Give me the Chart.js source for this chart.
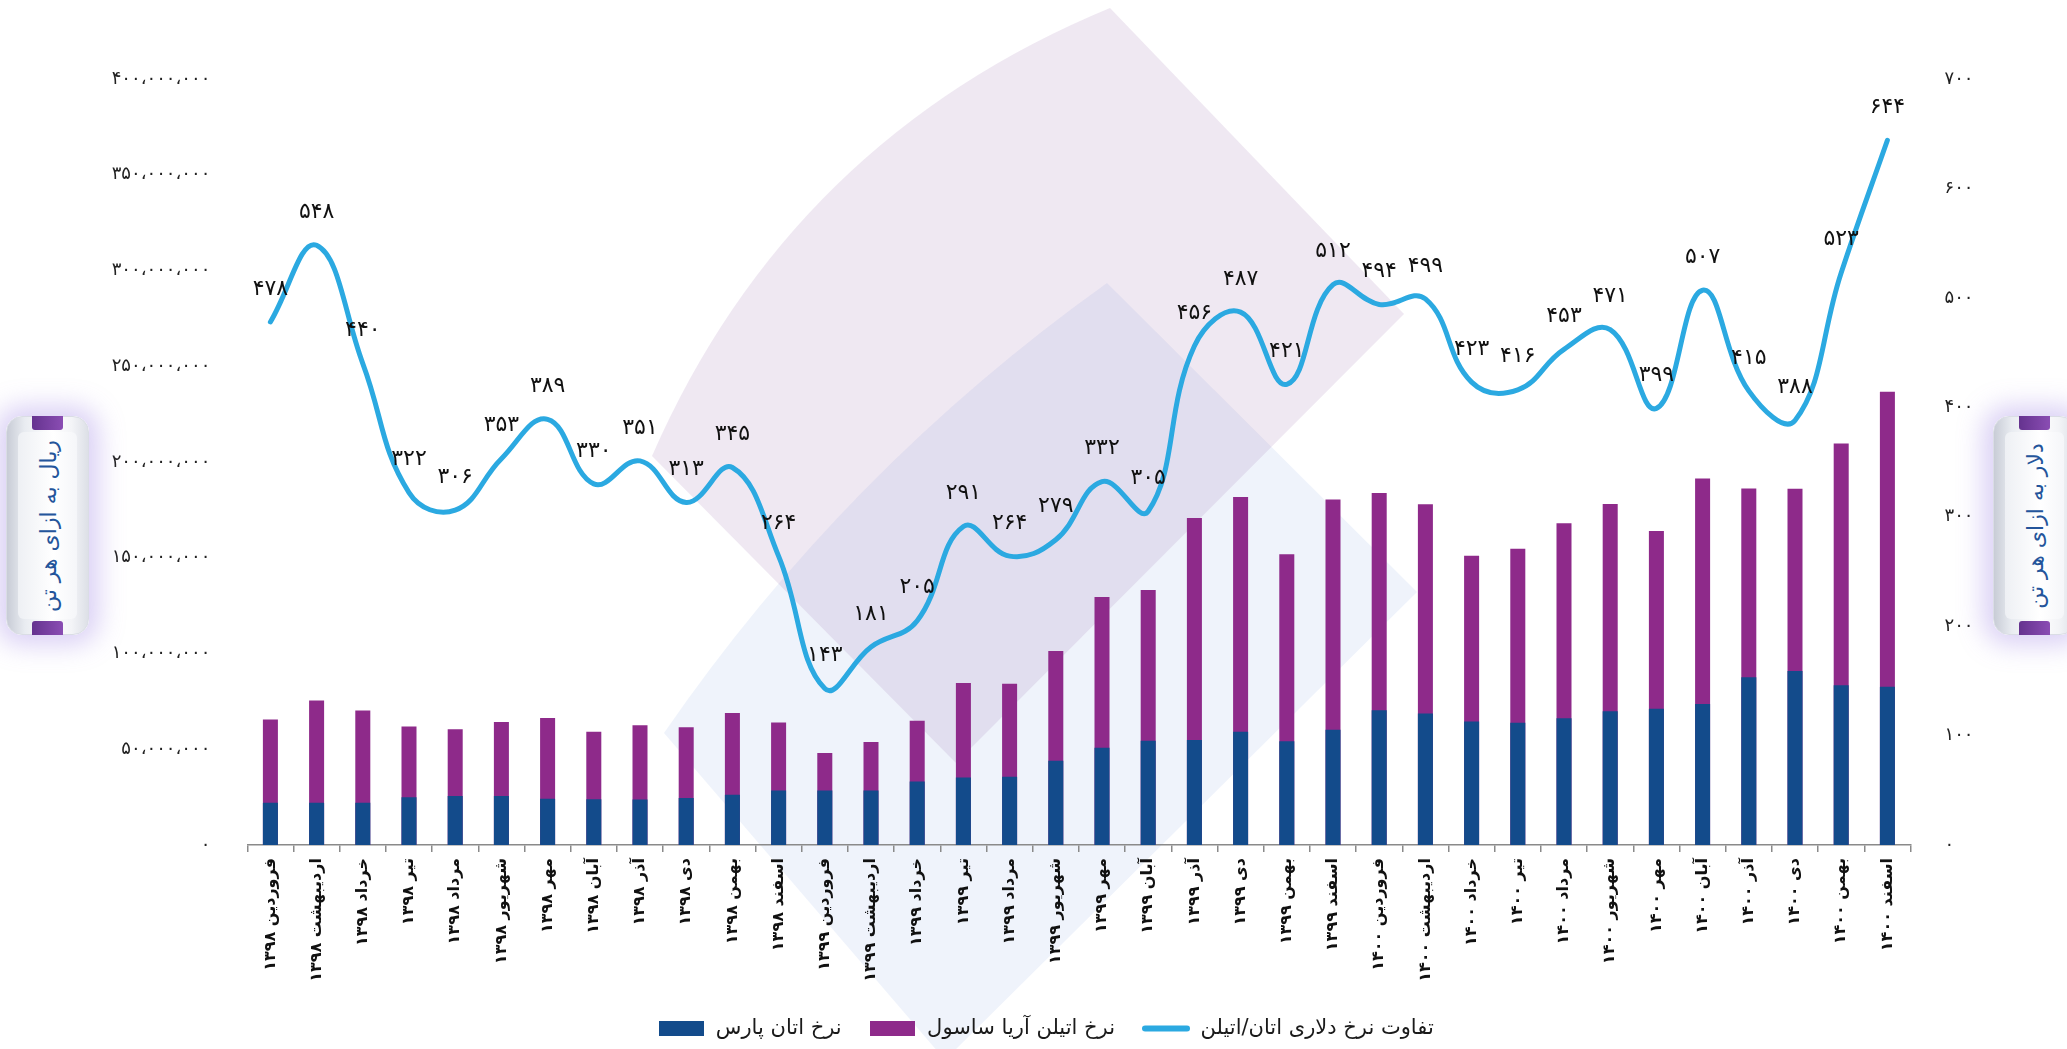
<!DOCTYPE html>
<html lang="fa">
<head>
<meta charset="utf-8">
<title>نرخ اتان و اتیلن</title>
<script src="https://cdn.jsdelivr.net/npm/chart.js@4.4.1/dist/chart.umd.min.js"></script>
<style>
html,body{margin:0;padding:0;background:#ffffff;overflow:hidden;}
#wrap{position:relative;width:2067px;height:1049px;overflow:hidden;background:#fff;}
#chart{position:absolute;left:0;top:0;}
.side{position:absolute;top:416px;width:83px;height:219px;border-radius:16px;
  background:linear-gradient(to right,#c8ccd6 0%,#e9ecf1 22%,#ffffff 55%,#f3f4f7 80%,#dde0e7 100%);
  box-shadow:0 0 26px 10px rgba(150,120,225,0.35);border:1px solid #dadde5;box-sizing:border-box;}
.side .inner{position:absolute;left:11px;right:11px;top:15px;bottom:15px;border-radius:6px;
  background:linear-gradient(to right,#eef0f4,#ffffff 60%,#f5f6f9);}
.side .cap{position:absolute;left:25px;width:31px;height:14px;background:linear-gradient(to right,#65338f,#8a4db3);}
.side .cap.t{top:-1px;border-radius:0 0 3px 3px;}
.side .cap.b{bottom:-1px;border-radius:3px 3px 0 0;}
.side .txt{position:absolute;left:50%;top:50%;transform:translate(-50%,-50%) rotate(-90deg);
  white-space:nowrap;font-family:'DejaVu Sans',sans-serif;font-size:22px;color:#24559b;direction:rtl;}
</style>
</head>
<body>
<div id="wrap">
  <canvas id="chart" width="2067" height="1049"></canvas>
  <div class="side" style="left:6px;"><div class="inner"></div><div class="cap t"></div><div class="cap b"></div><div class="txt">ریال به ازای هر تن</div></div>
  <div class="side" style="left:1993px;"><div class="inner"></div><div class="cap t"></div><div class="cap b"></div><div class="txt">دلار به ازای هر تن</div></div>
</div>
<script>
// ---- data ----
const categories = [
  'فروردین ۱۳۹۸','اردیبهشت ۱۳۹۸','خرداد ۱۳۹۸','تیر ۱۳۹۸','مرداد ۱۳۹۸','شهریور ۱۳۹۸',
  'مهر ۱۳۹۸','آبان ۱۳۹۸','آذر ۱۳۹۸','دی ۱۳۹۸','بهمن ۱۳۹۸','اسفند ۱۳۹۸',
  'فروردین ۱۳۹۹','اردیبهشت ۱۳۹۹','خرداد ۱۳۹۹','تیر ۱۳۹۹','مرداد ۱۳۹۹','شهریور ۱۳۹۹',
  'مهر ۱۳۹۹','آبان ۱۳۹۹','آذر ۱۳۹۹','دی ۱۳۹۹','بهمن ۱۳۹۹','اسفند ۱۳۹۹',
  'فروردین ۱۴۰۰','اردیبهشت ۱۴۰۰','خرداد ۱۴۰۰','تیر ۱۴۰۰','مرداد ۱۴۰۰','شهریور ۱۴۰۰',
  'مهر ۱۴۰۰','آبان ۱۴۰۰','آذر ۱۴۰۰','دی ۱۴۰۰','بهمن ۱۴۰۰','اسفند ۱۴۰۰'
];
// نرخ اتان پارس (ریال به ازای هر تن)
const ethaneRate = [
  22000000,22000000,22000000,25000000,25600000,25600000,24100000,23900000,23700000,24500000,26300000,28400000,
  28400000,28400000,33100000,35200000,35700000,44000000,50800000,54400000,54800000,59100000,54200000,60200000,
  70400000,68700000,64500000,63800000,66200000,69900000,71100000,73600000,87600000,90900000,83400000,82700000
];
// نرخ اتیلن آریا ساسول (ریال به ازای هر تن)
const ethyleneRate = [
  65500000,75500000,70200000,61900000,60400000,64200000,66300000,59100000,62500000,61500000,68900000,64000000,
  48000000,53800000,64900000,84600000,84200000,101300000,129500000,133100000,170800000,181700000,151800000,180400000,
  183800000,177900000,151000000,154700000,168000000,178100000,164000000,191400000,186200000,186000000,209600000,236700000
];
// تفاوت نرخ دلاری اتان/اتیلن (دلار به ازای هر تن)
const dollarGap = [
  478,548,440,322,306,353,389,330,351,313,345,264,
  143,181,205,291,264,279,332,305,456,487,421,512,
  494,499,423,416,453,471,399,507,415,388,523,644
];
const seriesNames = ['نرخ اتان پارس','نرخ اتیلن آریا ساسول','تفاوت نرخ دلاری اتان/اتیلن'];
const leftTicks = [0,50000000,100000000,150000000,200000000,250000000,300000000,350000000,400000000];
const rightTicks = [0,100,200,300,400,500,600,700];

// ---- helpers ----
const FA = '۰۱۲۳۴۵۶۷۸۹';
function fa(s){ return String(s).replace(/[0-9]/g, d => FA[+d]); }
function faSep(n){ return fa(Math.round(n).toString().replace(/\B(?=(\d{3})+(?!\d))/g,'،')); }
const FONT = "'DejaVu Sans', sans-serif";
const C_BLUE = '#134b8b', C_PURPLE = '#8e2a8a', C_LINE = '#2ba9e1';

function swatch(w,h,draw){ const c=document.createElement('canvas'); c.width=w; c.height=h; draw(c.getContext('2d'),w,h); return c; }
const swBlue = swatch(45,15,(g,w,h)=>{g.fillStyle=C_BLUE;g.fillRect(0,0,w,h);});
const swPurple = swatch(45,15,(g,w,h)=>{g.fillStyle=C_PURPLE;g.fillRect(0,0,w,h);});
const swLine = swatch(48,15,(g,w,h)=>{g.strokeStyle=C_LINE;g.lineWidth=6;g.lineCap='round';g.beginPath();g.moveTo(3,h/2);g.lineTo(w-3,h/2);g.stroke();});

// decorative background diamonds
const bgShapes = {
  id:'bgShapes',
  beforeDraw(chart){
    const g = chart.ctx; g.save();
    // light blue diamond
    g.fillStyle = 'rgba(120,160,222,0.12)';
    g.beginPath();
    g.moveTo(664,733);
    g.quadraticCurveTo(845,470,1107,283);
    g.lineTo(1417,592);
    g.lineTo(945,1060);
    g.closePath(); g.fill();
    // lavender diamond
    g.fillStyle = 'rgba(140,90,165,0.14)';
    g.beginPath();
    g.moveTo(652,456);
    g.quadraticCurveTo(790,140,1110,8);
    g.lineTo(1404,314);
    g.lineTo(956,763);
    g.closePath(); g.fill();
    g.restore();
  }
};

// value labels over line points
const pointLabels = {
  id:'pointLabels',
  afterDatasetsDraw(chart){
    const meta = chart.getDatasetMeta(2);
    const g = chart.ctx; g.save();
    g.font = "22px " + FONT; g.fillStyle = '#111'; g.textAlign='center'; g.textBaseline='middle';
    meta.data.forEach((pt,i)=>{ g.fillText(fa(dollarGap[i]), pt.x, pt.y - 33); });
    g.restore();
  }
};

new Chart(document.getElementById('chart'), {
  data:{
    labels: categories,
    datasets:[
      {type:'bar', label:seriesNames[0], data:ethaneRate, backgroundColor:C_BLUE, yAxisID:'y',
       grouped:false, order:1, categoryPercentage:1, barPercentage:0.325, pointStyle:swBlue},
      {type:'bar', label:seriesNames[1], data:ethyleneRate, backgroundColor:C_PURPLE, yAxisID:'y',
       grouped:false, order:2, categoryPercentage:1, barPercentage:0.325, pointStyle:swPurple},
      {type:'line', label:seriesNames[2], data:dollarGap, borderColor:C_LINE, backgroundColor:C_LINE, yAxisID:'y1',
       borderWidth:5, tension:0.42, pointRadius:0, pointHoverRadius:0, order:0, pointStyle:swLine,
       borderCapStyle:'round', borderJoinStyle:'round'}
    ]
  },
  options:{
    responsive:false, animation:false, devicePixelRatio:1,
    layout:{padding:{left:24,right:0,top:79,bottom:0}},
    plugins:{
      tooltip:{enabled:false},
      legend:{
        position:'bottom',
        labels:{
          usePointStyle:true, pointStyleWidth:48, boxHeight:15, padding:27,
          color:'#1a1a1a', font:{family:FONT,size:21},
          sort:(a,b)=>a.datasetIndex-b.datasetIndex
        }
      }
    },
    scales:{
      x:{
        offset:true,
        grid:{display:true, offset:true, drawOnChartArea:false, drawTicks:true, tickLength:7, color:'#8a8a8a', lineWidth:1.5},
        border:{display:true, color:'#8a8a8a', width:1.5},
        ticks:{minRotation:90, maxRotation:90, autoSkip:false, padding:6, color:'#111', font:{family:FONT,size:16,weight:'bold'}},
        afterFit(s){ s.height = 146; }
      },
      y:{
        position:'left', min:0, max:400000000,
        afterBuildTicks(s){ s.ticks = leftTicks.map(v=>({value:v})); },
        grid:{display:false}, border:{display:false},
        ticks:{padding:29, color:'#222', font:{family:FONT,size:18}, callback:v=>faSep(v)},
        afterFit(s){ s.width = 223.3; }
      },
      y1:{
        position:'right', min:0, max:700,
        afterBuildTicks(s){ s.ticks = rightTicks.map(v=>({value:v})); },
        grid:{display:false}, border:{display:false},
        ticks:{padding:26, color:'#222', font:{family:FONT,size:18}, callback:v=>fa(v)},
        afterFit(s){ s.width = 156.5; }
      }
    }
  },
  plugins:[bgShapes, pointLabels]
});
</script>
</body>
</html>
